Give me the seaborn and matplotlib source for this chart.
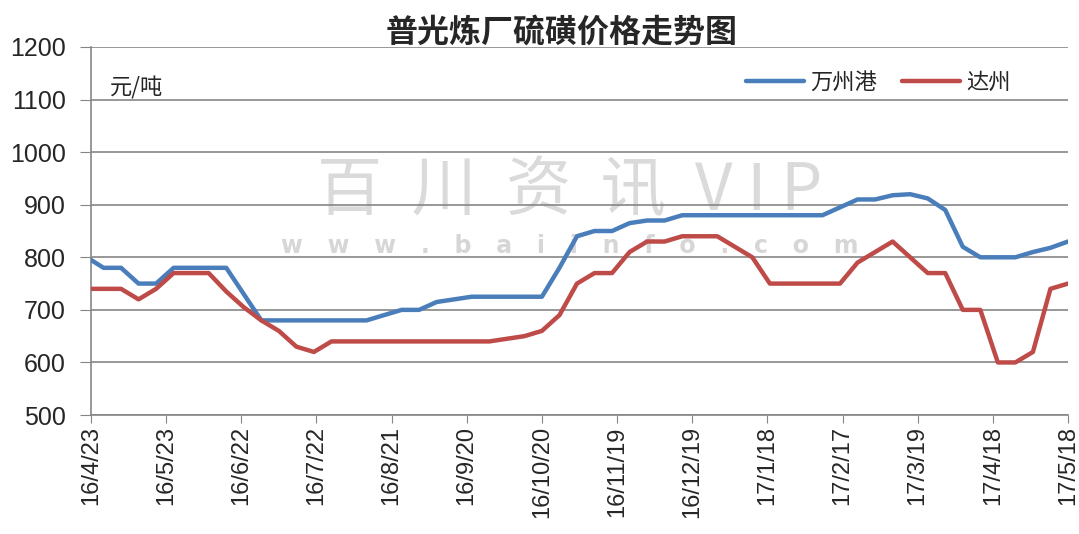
import pandas as pd
import seaborn as sns
import matplotlib.pyplot as plt

# 日期: 首个点 + 每周四
dates = [pd.Timestamp("2016-04-23")] + list(pd.date_range("2016-04-28", "2017-05-18", freq="7D"))

wanzhou = [795,
           780, 780, 750, 750, 780, 780, 780, 780, 730, 680,
           680, 680, 680, 680, 680, 680, 690, 700, 700, 715,
           720, 725, 725, 725, 725, 725, 780, 840, 850, 850,
           865, 870, 870, 880, 880, 880, 880, 880, 880, 880,
           880, 880, 895, 910, 910, 918, 920, 912, 890, 820,
           800, 800, 800, 810, 818, 830]

dazhou = [740,
          740, 740, 720, 740, 770, 770, 770, 735, 705, 680,
          660, 630, 620, 640, 640, 640, 640, 640, 640, 640,
          640, 640, 640, 645, 650, 660, 690, 750, 770, 770,
          810, 830, 830, 840, 840, 840, 820, 800, 750, 750,
          750, 750, 750, 790, 810, 830, 800, 770, 770, 700,
          700, 600, 600, 620, 740, 750]

names = ["万州港", "达州"]
colors = ["#4A7EBB", "#BE4B48"]

df = pd.concat([
    pd.DataFrame({"日期": dates, "价格": wanzhou, "地区": names[0]}),
    pd.DataFrame({"日期": dates, "价格": dazhou, "地区": names[1]}),
])

sns.set_style("white")
plt.rcParams['font.family'] = ['Liberation Sans', 'Noto Sans CJK SC', 'DejaVu Sans']
cjk = ['Noto Sans CJK SC', 'DejaVu Sans']

fig = plt.figure(figsize=(10.79, 5.34), dpi=100)
ax = fig.add_axes([0.0843, 0.2228, 0.9055, 0.6892])

# 水印
ax.text(0.49, 0.605, "百  川  资  讯  V I P", transform=ax.transAxes, fontsize=47, color="#dadada",
        ha="center", va="center", family=cjk, fontweight="light", zorder=0)
ax.text(0.49, 0.46, "w   w   w   .   b   a   i   i   n   f   o   .   c   o   m", transform=ax.transAxes,
        fontsize=17, color="#d6d6d6", ha="center", va="center", fontweight="bold",
        family=['DejaVu Sans'], zorder=0)

sns.lineplot(data=df, x="日期", y="价格", hue="地区", palette=colors, linewidth=3.2, ax=ax, zorder=3)

ax.set_ylim(500, 1200)
ax.set_yticks(range(500, 1201, 100))
start = pd.Timestamp("2016-04-23")
end = pd.Timestamp("2017-05-18")
ax.set_xlim(start, end)
ticks = pd.date_range(start, end, freq="30D")
ax.set_xticks(ticks)
ax.set_xticklabels([f"{d.year % 100}/{d.month}/{d.day}" for d in ticks], rotation=90, fontsize=17)
ax.tick_params(axis="y", labelsize=18, length=8, color="#868686", direction="out", left=True, pad=10)
ax.tick_params(axis="x", length=6, color="#868686", direction="out", bottom=True, pad=2)

ax.grid(axis="y", color="#868686", linewidth=1.2)
ax.set_axisbelow(True)
for s in ["top", "right"]:
    ax.spines[s].set_visible(False)
for s in ["left", "bottom"]:
    ax.spines[s].set_color("#868686")
    ax.spines[s].set_linewidth(1.2)

ax.set_xlabel("")
ax.set_ylabel("")

ax.text(0.019, 0.89, "元/吨", transform=ax.transAxes, fontsize=16, ha="left", va="center", family=cjk)

leg = ax.legend(loc="center right", bbox_to_anchor=(0.962, 0.905), ncol=2, frameon=False,
                handlelength=2.6, columnspacing=1.1, handletextpad=0.3,
                prop={"family": cjk, "size": 16})

fig.suptitle("普光炼厂硫磺价格走势图", x=0.52, y=0.97, fontsize=23, fontweight="bold", family=cjk)

fig.savefig("out.png", dpi=100)
